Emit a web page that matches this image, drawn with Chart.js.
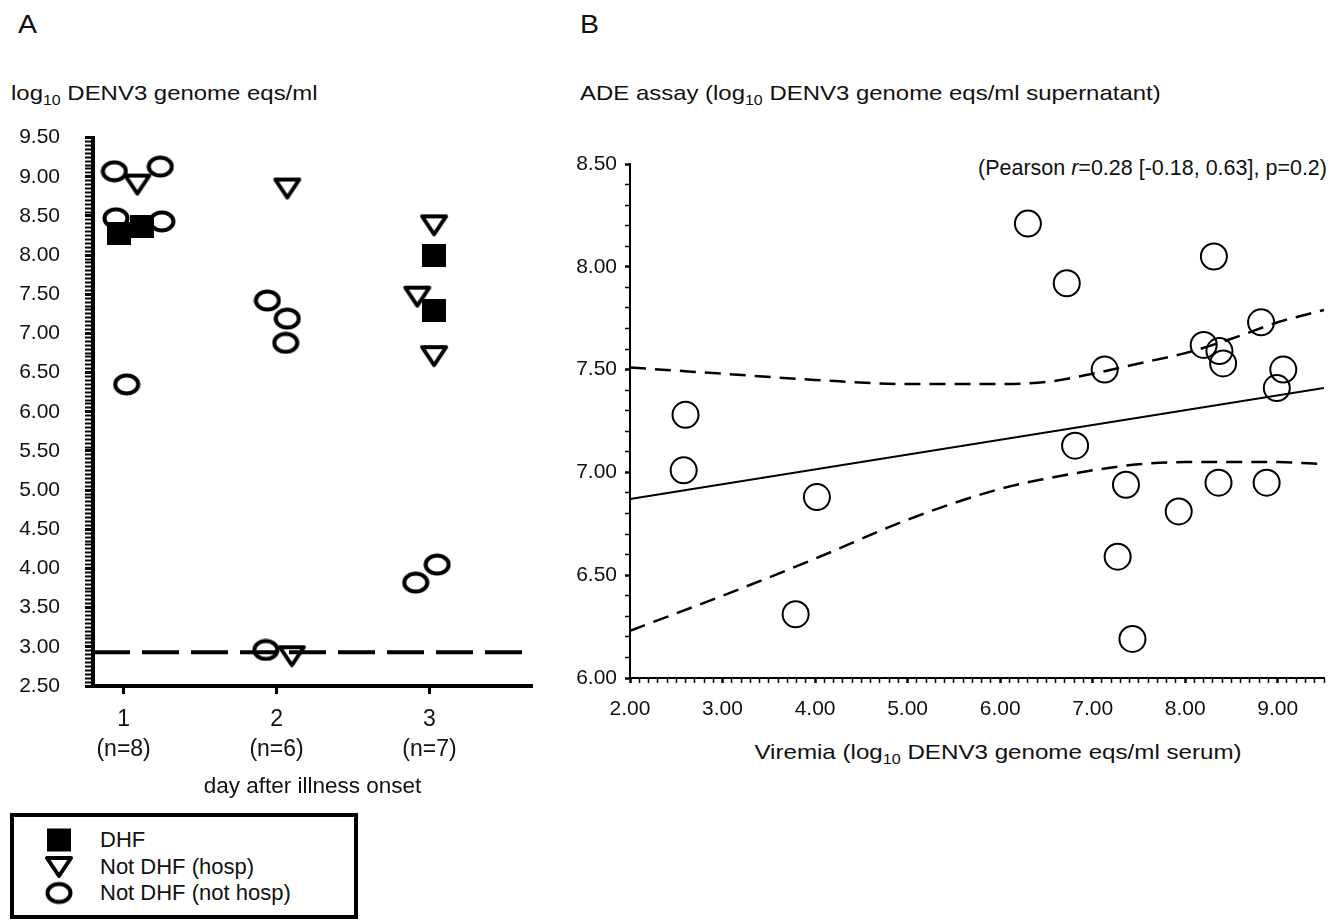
<!DOCTYPE html>
<html>
<head>
<meta charset="utf-8">
<script src="https://cdn.jsdelivr.net/npm/chart.js@4.4.1/dist/chart.umd.min.js"></script>
<style>
  body { margin: 0; background: #fff; font-family: 'Liberation Sans', Arial, sans-serif; color: #111; }
  #page { position: relative; width: 1339px; height: 923px; overflow: hidden; }
  .txt { position: absolute; font-size: 21px; line-height: 1; white-space: nowrap; transform-origin: 0 50%; }
  .txt sub { font-size: 14px; vertical-align: -5px; line-height: 0; }
  .wide { transform: scaleX(1.14); }
  .panel { position: absolute; font-size: 25px; line-height: 1; transform: scaleX(1.14); transform-origin: 0 50%; }
  #chartA { position: absolute; left: 0; top: 100px; }
  #chartB { position: absolute; left: 540px; top: 100px; }
  #legend { position: absolute; left: 10px; top: 813px; width: 340px; height: 98px; border: 4px solid #000; }
  #legend .row { position: absolute; left: 0; height: 26px; width: 100%; }
  #legend canvas { position: absolute; top: 50%; transform: translate(-50%, -50%); left: 45px; }
  #legend span { position: absolute; left: 86px; top: 50%; transform: translateY(-50%); font-size: 22px; white-space: nowrap; }
</style>
</head>
<body>
<div id="page">
  <div class="panel" style="left:18px;top:12px">A</div>
  <div class="panel" style="left:580px;top:12px">B</div>
  <div class="txt wide" style="left:11px;top:82px">log<sub>10</sub> DENV3 genome eqs/ml</div>
  <div class="txt wide" style="left:580px;top:82px">ADE assay (log<sub>10</sub> DENV3 genome eqs/ml supernatant)</div>
  <div class="txt" style="right:12px;top:158px;font-size:21.5px">(Pearson <i>r</i>=0.28 [-0.18, 0.63], p=0.2)</div>
  <div class="txt" style="left:998px;top:741px;transform:translateX(-50%) scaleX(1.15);transform-origin:50% 50%">Viremia (log<sub>10</sub> DENV3 genome eqs/ml serum)</div>
  <canvas id="chartA" width="560" height="700"></canvas>
  <canvas id="chartB" width="799" height="640"></canvas>
  <div id="legend"></div>
</div>
<script>
// panel A: viremia by day after illness onset
const days = [1, 2, 3];
const dayN = ['(n=8)', '(n=6)', '(n=7)'];
const seriesNames = ['DHF', 'Not DHF (hosp)', 'Not DHF (not hosp)'];

const dhfX = [0.97, 1.12, 3.03, 3.03];
const dhfY = [8.28, 8.36, 7.99, 7.29];
const hospX = [1.09, 2.07, 2.10, 3.03, 2.92, 3.03];
const hospY = [8.90, 8.85, 2.88, 8.38, 7.47, 6.71];
const notHospX = [0.94, 1.24, 0.95, 1.25, 1.02, 1.94, 2.07, 2.06, 1.93, 2.91, 3.05];
const notHospY = [9.07, 9.13, 8.47, 8.43, 6.35, 7.42, 7.19, 6.88, 2.96, 3.82, 4.05];
const detectLimit = 2.93;
const lodRange = [0.8, 3.61];

// panel B: ADE assay vs viremia
const viremia = [2.60, 2.58, 6.30, 8.31, 6.72, 8.82, 8.20, 8.37, 8.41, 7.13, 9.06,
                 8.99, 6.81, 7.36, 8.36, 8.88, 4.02, 3.79, 7.27, 7.43, 7.93];
const ade = [7.28, 7.01, 8.21, 8.05, 7.92, 7.73, 7.62, 7.59, 7.53, 7.50, 7.50,
             7.41, 7.13, 6.94, 6.95, 6.95, 6.88, 6.31, 6.59, 6.19, 6.81];
const fitX = [2, 9.5];
const fitY = [6.87, 7.41];
const bandX = [2, 3, 4, 5, 6, 6.5, 7, 7.5, 8, 8.5, 9, 9.5];
const bandHi = [7.51, 7.48, 7.45, 7.43, 7.43, 7.44, 7.48, 7.53, 7.58, 7.65, 7.73, 7.79];
const bandLo = [6.23, 6.40, 6.58, 6.77, 6.92, 6.97, 7.01, 7.04, 7.05, 7.05, 7.05, 7.04];

const pts = (xs, ys) => xs.map((x, i) => ({x: x, y: ys[i]}));
const half = v => Math.abs(v * 2 - Math.round(v * 2)) < 1e-6;
const whole = v => Math.abs(v - Math.round(v)) < 1e-6;

function marker(kind) {
  let c = document.createElement('canvas');
  let g = c.getContext('2d');
  g.strokeStyle = '#000';
  g.fillStyle = '#000';
  if (kind === 'square') {
    c.width = 24; c.height = 23;
    g.fillRect(0, 0, 24, 23);
  } else if (kind === 'tri') {
    c.width = 30; c.height = 24;
    g.lineWidth = 4; g.lineJoin = 'round';
    g.beginPath(); g.moveTo(3, 3); g.lineTo(27, 3); g.lineTo(15, 21); g.closePath(); g.stroke();
  } else {
    c.width = 28; c.height = 23;
    g.lineWidth = 4;
    g.beginPath(); g.ellipse(14, 11.5, 11.5, 9, 0, 0, Math.PI * 2); g.stroke();
  }
  return c;
}
const kinds = ['square', 'tri', 'circ'];

Chart.defaults.font.family = "'Liberation Sans', Arial, sans-serif";
Chart.defaults.font.size = 21;
Chart.defaults.color = '#111';

new Chart(document.getElementById('chartA'), {
  type: 'scatter',
  data: {
    datasets: [
      {label: seriesNames[0], data: pts(dhfX, dhfY), pointStyle: marker('square'), pointRadius: 12},
      {label: seriesNames[1], data: pts(hospX, hospY), pointStyle: marker('tri'), pointRadius: 12},
      {label: seriesNames[2], data: pts(notHospX, notHospY), pointStyle: marker('circ'), pointRadius: 12},
      {type: 'line', label: 'detection limit',
       data: lodRange.map(x => ({x: x, y: detectLimit})),
       borderColor: '#000', borderWidth: 4, borderDash: [37, 12], pointRadius: 0}
    ]
  },
  options: {
    responsive: false,
    animation: false,
    layout: {padding: {top: 35, right: 28, left: 0, bottom: 0}},
    plugins: {legend: {display: false}, tooltip: {enabled: false}},
    scales: {
      x: {
        type: 'linear', min: 0.8, max: 3.67,
        afterBuildTicks: s => { s.ticks = days.map(v => ({value: v})); },
        afterFit: s => { s.height = 114; },
        border: {display: true, color: '#000', width: 4},
        grid: {drawOnChartArea: false, tickLength: 8, tickWidth: 3, tickColor: '#000'},
        ticks: {padding: 11, maxRotation: 0, autoSkip: false, font: {size: 23, lineHeight: 1.3},
                callback: (v, i) => [String(days[i]), dayN[i]]},
        title: {display: true, text: 'day after illness onset', font: {size: 22.5}, padding: 0}
      },
      y: {
        type: 'linear', min: 2.5, max: 9.5,
        afterFit: s => { s.width = 93; },
        border: {display: true, color: '#000', width: 4},
        grid: {drawOnChartArea: false, tickLength: 8, tickColor: '#000',
               tickWidth: c => half(c.tick.value) ? 3 : 2},
        ticks: {stepSize: 0.05, autoSkip: false, padding: 25,
                callback: v => half(v) ? v.toFixed(2) : ''}
      }
    }
  }
});

new Chart(document.getElementById('chartB'), {
  type: 'scatter',
  data: {
    datasets: [
      {label: 'samples', data: pts(viremia, ade), pointStyle: 'circle', pointRadius: 13,
       borderColor: '#000', borderWidth: 2, backgroundColor: 'rgba(0,0,0,0)'},
      {type: 'line', label: 'fit', data: pts(fitX, fitY), borderColor: '#000', borderWidth: 2, pointRadius: 0},
      {type: 'line', label: 'upper 95% CI', data: pts(bandX, bandHi), borderColor: '#000', borderWidth: 2.5,
       borderDash: [16, 9], pointRadius: 0, cubicInterpolationMode: 'monotone'},
      {type: 'line', label: 'lower 95% CI', data: pts(bandX, bandLo), borderColor: '#000', borderWidth: 2.5,
       borderDash: [16, 9], pointRadius: 0, cubicInterpolationMode: 'monotone'}
    ]
  },
  options: {
    responsive: false,
    animation: false,
    layout: {padding: {top: 64, right: 9, left: 0, bottom: 0}},
    plugins: {legend: {display: false}, tooltip: {enabled: false}},
    scales: {
      x: {
        type: 'linear', min: 2, max: 9.5,
        afterFit: s => { s.height = 62; },
        border: {display: true, color: '#000', width: 2},
        grid: {drawOnChartArea: false, tickLength: 5, tickColor: '#000',
               tickWidth: c => whole(c.tick.value) ? 2.5 : 1.5},
        ticks: {stepSize: 0.1, autoSkip: false, maxRotation: 0, minRotation: 0, padding: 14,
                callback: v => whole(v) ? v.toFixed(2) : ''}
      },
      y: {
        type: 'linear', min: 6, max: 8.5,
        afterFit: s => { s.width = 90; },
        border: {display: true, color: '#000', width: 2},
        grid: {drawOnChartArea: false, tickLength: 5, tickColor: '#000',
               tickWidth: c => half(c.tick.value) ? 2.5 : 1.5},
        ticks: {stepSize: 0.1, autoSkip: false, padding: 8,
                callback: v => half(v) ? v.toFixed(2) : ''}
      }
    }
  }
});

// legend box under panel A
let legend = document.getElementById('legend');
seriesNames.forEach((name, i) => {
  let row = document.createElement('div');
  row.className = 'row';
  row.style.top = (10 + i * 26.5) + 'px';
  row.appendChild(marker(kinds[i]));
  let s = document.createElement('span');
  s.textContent = name;
  row.appendChild(s);
  legend.appendChild(row);
});
</script>
</body>
</html>
